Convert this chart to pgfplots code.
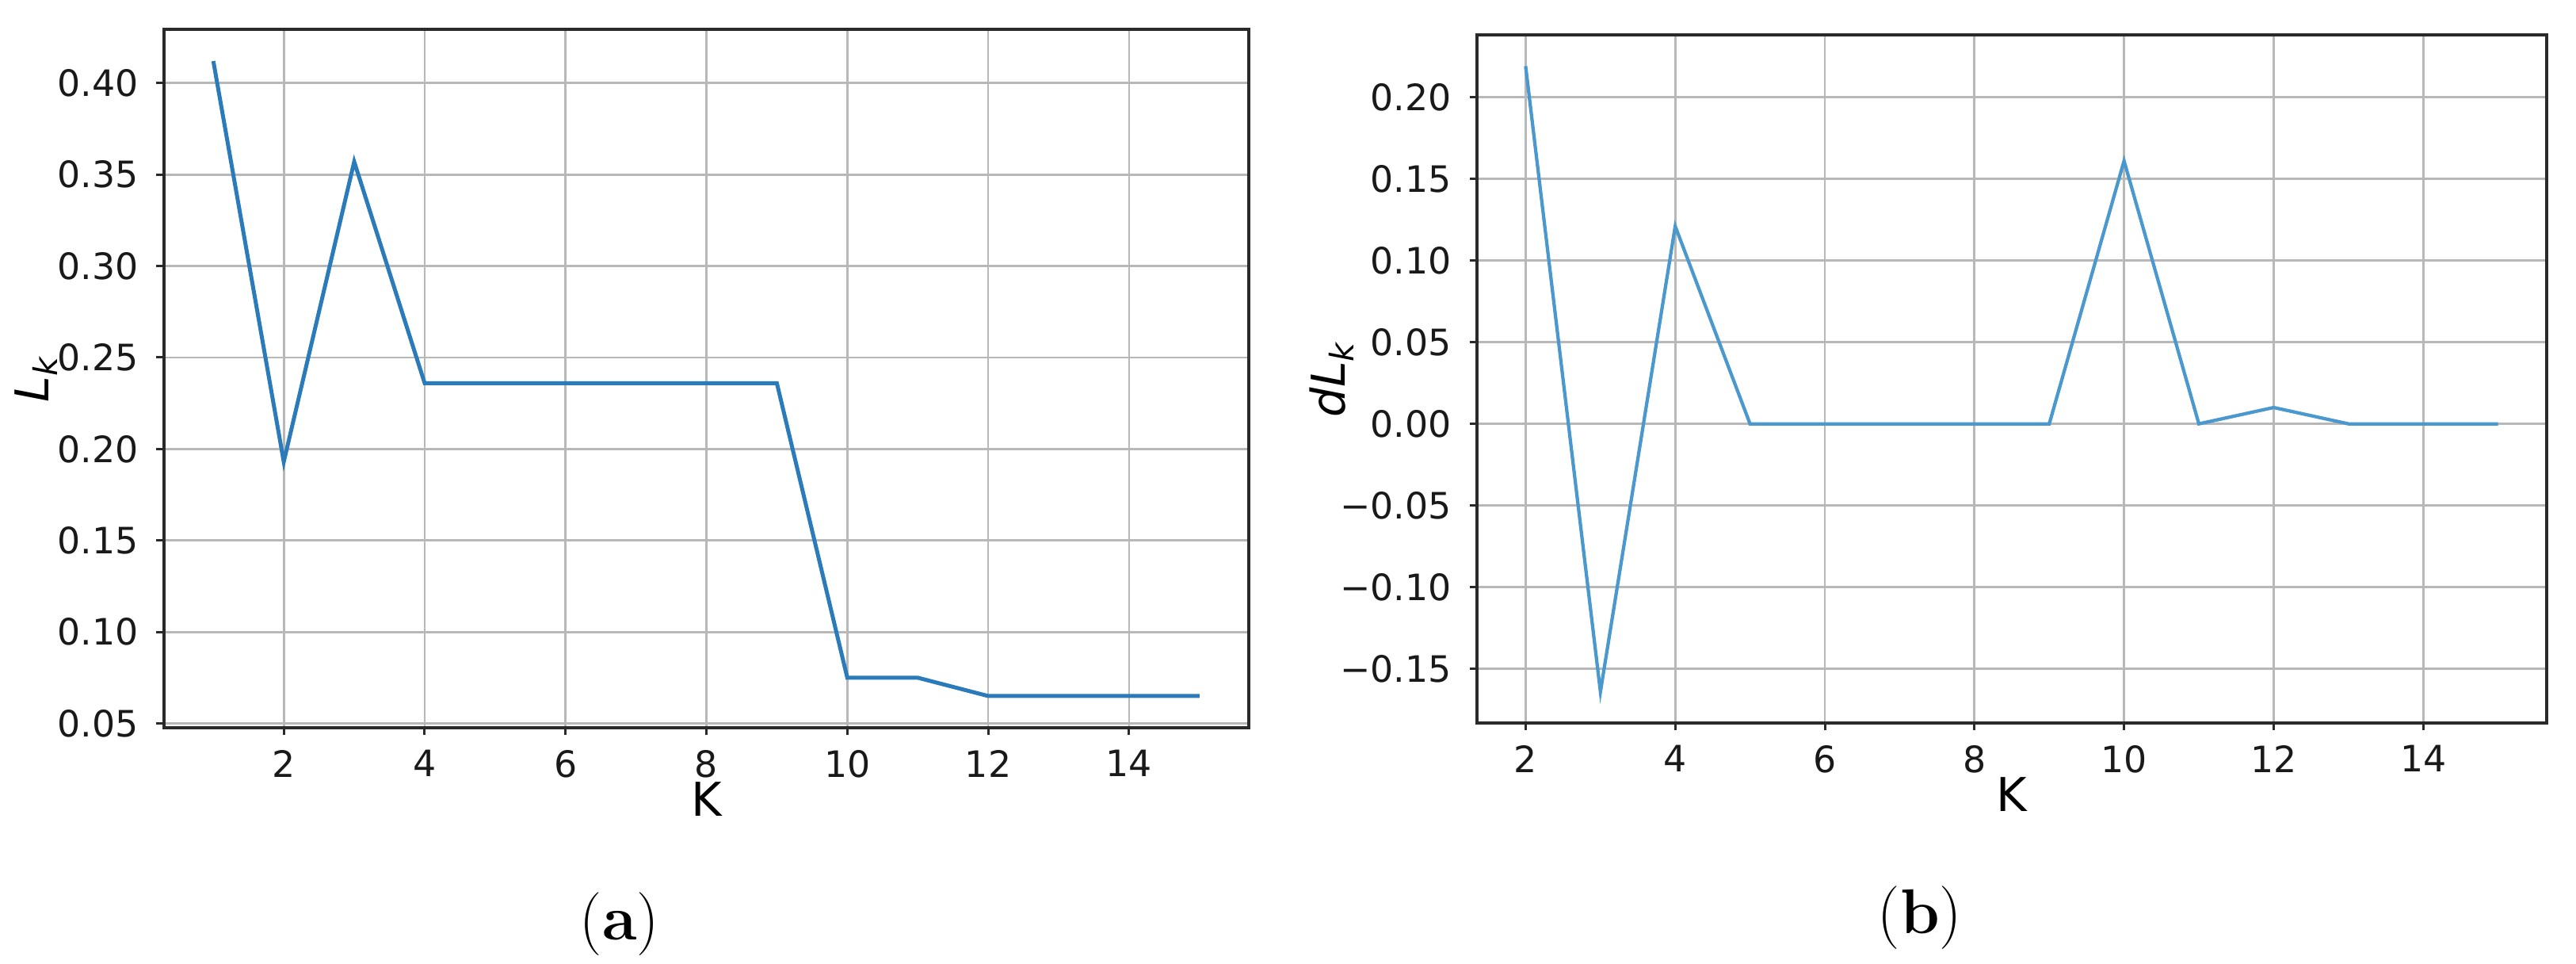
\documentclass[border=0pt]{standalone}
\usepackage{pgfplots}
\pgfplotsset{compat=1.18}
\usepackage{fontspec}
\newfontfamily\djv{DejaVu Sans}

\definecolor{lineA}{HTML}{2B7BBA}
\definecolor{lineB}{HTML}{4A98CE}
\definecolor{gridc}{HTML}{B8B8B8}
\definecolor{spine}{HTML}{2A2A2A}

\pgfplotsset{
  panel/.style={
    scale only axis, anchor=south west,
    tick align=outside, tick pos=left,
    grid=major,
    major grid style={color=gridc, line width=0.55bp},
    axis line style={line width=0.75bp, color=spine},
    major tick style={line width=0.6bp, color=spine},
    major tick length=1.9bp,
    xtick={2,4,6,8,10,12,14},
    /pgf/number format/assume math mode=true,
    ticklabel style={font=\djv\fontsize{9.2}{10}\selectfont, text=black!90},
    xticklabel style={anchor=north, inner sep=0pt, yshift=-3.6bp},
    yticklabel style={anchor=east, inner sep=0pt, xshift=-4.4bp},
    label style={font=\djv\fontsize{11.8}{13}\selectfont},
  }
}

\pgfplotstableread{
k  L
1  0.412
2  0.193
3  0.357
4  0.236
5  0.236
6  0.236
7  0.236
8  0.236
9  0.236
10 0.075
11 0.075
12 0.065
13 0.065
14 0.065
15 0.065
}\tabL

\pgfplotstableread{
k  dL
2  0.219
3  -0.164
4  0.121
5  0.000
6  0.000
7  0.000
8  0.000
9  0.000
10 0.161
11 0.000
12 0.010
13 0.000
14 0.000
15 0.000
}\tabdL

\begin{document}
\begin{tikzpicture}
\path[use as bounding box] (0bp,0bp) rectangle (650.2bp,243.2bp);

% (a) L_k
\begin{axis}[panel,
    at={(41.4bp,59.6bp)},
    width=273.8bp, height=176.2bp,
    xmin=0.3, xmax=15.7,
    ymin=0.04765, ymax=0.42935,
    ytick={0.05,0.1,0.15,0.2,0.25,0.3,0.35,0.4},
    yticklabels={0.05,0.10,0.15,0.20,0.25,0.30,0.35,0.40},
    xlabel={K},
    ylabel={\itshape L\textsubscript{k}},
    xlabel style={at={(axis description cs:0.5,-0.102)}, anchor=center},
    ylabel style={at={(axis description cs:-0.118,0.5)}, anchor=center},
]
\addplot[color=lineA, line width=1bp] table[x=k, y=L] {\tabL};
\end{axis}

% (b) dL_k
\begin{axis}[panel,
    at={(372.8bp,60.8bp)},
    width=270bp, height=173.6bp,
    xmin=1.35, xmax=15.65,
    ymin=-0.18315, ymax=0.23815,
    ytick={-0.15,-0.1,-0.05,0,0.05,0.1,0.15,0.2},
    yticklabels={−0.15,−0.10,−0.05,0.00,0.05,0.10,0.15,0.20},
    xlabel={K},
    ylabel={\itshape dL\textsubscript{k}},
    xlabel style={at={(axis description cs:0.5,-0.104)}, anchor=center},
    ylabel style={at={(axis description cs:-0.136,0.5)}, anchor=center},
]
\addplot[color=lineB, line width=0.85bp] table[x=k, y=dL] {\tabdL};
\end{axis}

\node at (156.4bp,10bp) {\fontsize{16}{18}\selectfont(\textbf{a})};
\node at (484.6bp,11.6bp) {\fontsize{16}{18}\selectfont(\textbf{b})};
\end{tikzpicture}
\end{document}
